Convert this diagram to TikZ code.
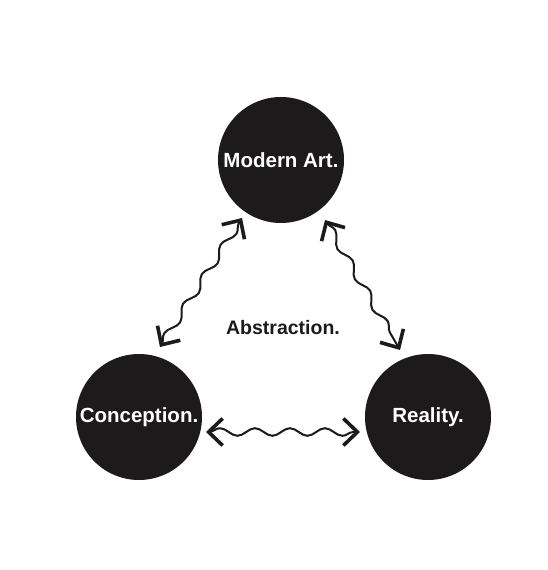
\documentclass[tikz,border=0pt]{standalone}
\usepackage{fontspec}
\setmainfont{Liberation Sans}
\usetikzlibrary{decorations.pathmorphing, arrows.meta}
\definecolor{ink}{HTML}{1C1A1B}
\begin{document}
\begin{tikzpicture}[x=1pt,y=1pt,
  blob/.style={circle, fill=ink, minimum size=126pt, inner sep=0pt, text=white, font=\fontsize{20.5}{24}\selectfont\bfseries},
  label/.style={text=ink, font=\fontsize{19.5}{24}\selectfont\bfseries},
  barb/.tip={Straight Barb[length=14pt,width=27pt,line width=3.6pt]},
  wavy/.style={draw=ink, line width=2pt, barb-barb, decorate,
    decoration={snake, amplitude=3.8pt, segment length=35pt, pre length=3pt, post length=3pt}}]
\fill[white] (0,0) rectangle (547,570);
\useasboundingbox (0,0) rectangle (547,570);
\node[blob] (M) at (281,410) {Modern Art.};
\node[blob] (C) at (139,153) {Conception.};
\node[blob] (R) at (428,153) {Reality.};
\node[label] (A) at (283,242) {Abstraction.};
\coordinate (l1) at (160,223);
\coordinate (l2) at (242,352);
\coordinate (r1) at (325,350);
\coordinate (r2) at (400,220);
\coordinate (b1) at (206,138);
\coordinate (b2) at (360,138);
\draw[wavy] (l1) -- (l2);
\draw[wavy] (r1) -- (r2);
\draw[wavy] (b1) -- (b2);
\end{tikzpicture}
\end{document}
